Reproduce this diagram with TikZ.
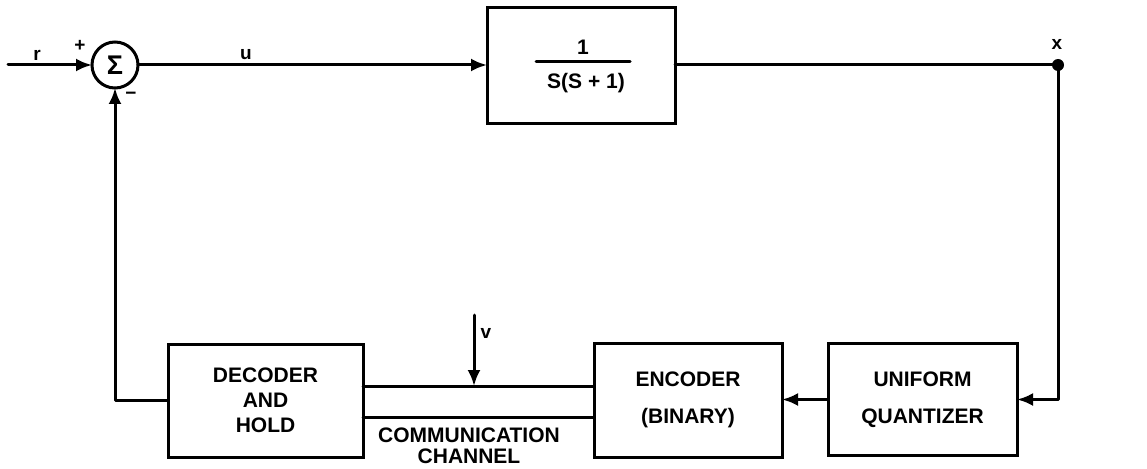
\documentclass[tikz,border=0pt]{standalone}
\usepackage{fontspec}
\setmainfont{Liberation Sans}
\usetikzlibrary{arrows.meta,calc}
\tikzset{
  ln/.style={line width=3pt, line cap=round, line join=round},
  arr/.style={ln, -{Latex[length=16pt,width=13pt]}},
  blk/.style={draw, line width=3pt, rectangle, inner sep=0pt, outer sep=0pt, align=center,
    font=\fontsize{21}{25}\selectfont\bfseries},
  lbl/.style={inner sep=0pt, font=\fontsize{19}{20}\selectfont\bfseries},
  txt/.style={inner sep=0pt, align=center, font=\fontsize{21}{21}\selectfont\bfseries}
}
\begin{document}
\begin{tikzpicture}[x=1pt,y=-1pt]
\useasboundingbox (0,0) rectangle (1147,468);
% blocks
\node[draw, circle, line width=3pt, minimum size=46pt, inner sep=0pt, outer sep=0pt,
      font=\fontsize{27}{27}\selectfont\bfseries] (sum) at (115,65) {Σ};
\node[blk, minimum width=188pt, minimum height=115pt] (plant) at (581,65.5) {};
\node[txt] (num) at (583,47) {1};
\node[txt] (den) at (586,83) {S(S + 1)};
\coordinate (barl) at (536,62);
\coordinate (barr) at (630,62);
\draw[ln] (barl) -- (barr);
\node[blk, minimum width=195pt, minimum height=113pt] (dec) at (265.5,400.5) {DECODER\\AND\\HOLD};
\node[blk, minimum width=188pt, minimum height=114pt, font=\fontsize{21}{37}\selectfont\bfseries] (enc) at (688,400) {ENCODER\\(BINARY)};
\node[blk, minimum width=189pt, minimum height=112pt, font=\fontsize{21}{37}\selectfont\bfseries] (qua) at (922.5,399.5) {UNIFORM\\QUANTIZER};
% coordinates
\coordinate (rin) at (8,65);
\coordinate (xdot) at (1058,65);
\coordinate (fb) at (115,400);
\coordinate (cht) at (474,386);
\coordinate (chb) at (474,417);
\coordinate (vtop) at (474,315);
% connectors
\draw[arr] (rin) -- (sum.west);
\draw[arr] (sum.east) -- (sum.east -| plant.west);
\draw[ln] (plant.east |- xdot) -- (xdot);
\fill (xdot) circle (6pt);
\draw[arr] (xdot) -- (xdot |- qua.east) -- (qua.east);
\draw[arr] (qua.west) -- (qua.west -| enc.east);
\draw[ln] (dec.east |- cht) -- (enc.west |- cht);
\draw[ln] (dec.east |- chb) -- (enc.west |- chb);
\draw[arr] (vtop) -- (cht);
\draw[arr] (dec.west |- fb) -- (fb) -- (sum.south);
% labels
\node[lbl] (lr) at (37,55) {r};
\node[lbl] (lplus) at (80,46) {+};
\node[lbl] (lminus) at (131,96) {−};
\node[lbl] (lu) at (246,55) {u};
\node[lbl] (lx) at (1057,44) {x};
\node[lbl] (lv) at (486,333) {v};
\node[txt] (comm) at (469,446) {COMMUNICATION\\CHANNEL};
\end{tikzpicture}
\end{document}
